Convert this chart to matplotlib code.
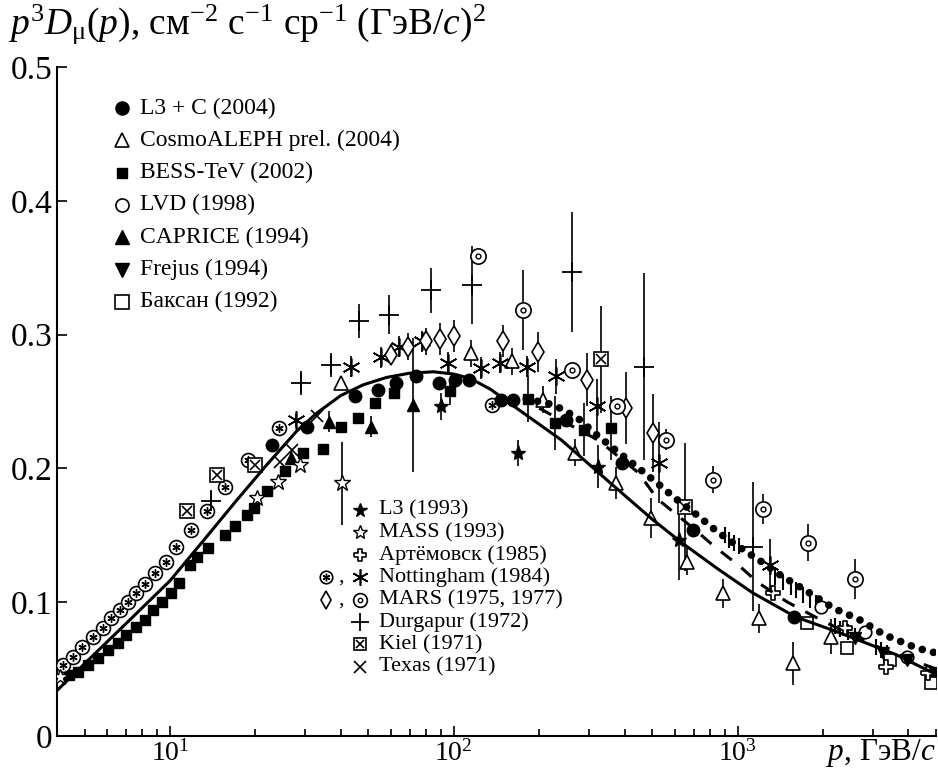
import matplotlib
matplotlib.use("Agg")
import matplotlib.pyplot as plt
from matplotlib.ticker import FixedLocator, NullFormatter

plt.rcParams['font.family'] = ['Liberation Serif', 'DejaVu Serif']
plt.rcParams['mathtext.fontset'] = 'custom'
plt.rcParams['mathtext.rm'] = 'Liberation Serif'
plt.rcParams['mathtext.it'] = 'Liberation Serif:italic'
plt.rcParams['mathtext.bf'] = 'Liberation Serif:bold'

# model curves
solid_p = [4, 5, 7, 10, 13, 17, 22, 28, 33, 40, 48, 58, 70, 85, 100, 115, 135, 164, 240, 350, 500, 640, 850, 1130,
           1600, 2200, 3600, 5000]
solid_v = [0.034, 0.054, 0.084, 0.116, 0.145, 0.175, 0.203, 0.228, 0.2415, 0.2545, 0.2625, 0.268, 0.2712, 0.2722,
           0.2705, 0.267, 0.259, 0.246, 0.221, 0.1905, 0.162, 0.144, 0.125, 0.107, 0.089, 0.0785, 0.061, 0.046]
dash_p = [200, 323, 446, 523, 700, 835, 1016, 1174, 1500, 1995, 3000, 5000]
dash_v = [0.245, 0.221, 0.197, 0.177, 0.155, 0.141, 0.127, 0.115, 0.10, 0.086, 0.068, 0.050]
dot_p = [180, 225, 272, 319, 370, 443, 521, 600, 721, 849, 1000, 1200, 1420, 1700, 2200, 2660, 3300, 4270, 5000]
dot_v = [0.252, 0.2475, 0.238, 0.225, 0.214, 0.201, 0.189, 0.178, 0.165, 0.1526, 0.142, 0.131, 0.12, 0.11,
         0.095, 0.0875, 0.0755, 0.0658, 0.062]

# data sets
l3c_p = [22.9, 30.5, 45, 53.9, 62.5, 73.7, 89, 100.6, 113, 147, 162, 248, 390, 698, 1580]
l3c_v = [0.2177, 0.2313, 0.2538, 0.2588, 0.2638, 0.2687, 0.2638, 0.2663, 0.2663, 0.2513, 0.2513, 0.2363, 0.2044, 0.154, 0.0892]
l3c_bar_p = [900, 930, 970, 1010, 1350, 1440, 1540, 1600, 1700, 1800, 1890, 2200, 2300, 2440, 2590, 3080, 3200, 3350]
l3c_bar_v = [0.150, 0.1466, 0.144, 0.142, 0.119, 0.1154, 0.1117, 0.109, 0.1055, 0.1017, 0.0995, 0.0825, 0.080, 0.0778,
             0.0748, 0.0668, 0.0643, 0.062]

aleph_p = [40, 115, 160, 207, 267, 372, 494, 664, 885, 1190, 1573, 2130]
aleph_v = [0.264, 0.286, 0.28, 0.2513, 0.2117, 0.189, 0.1628, 0.1304, 0.1067, 0.088, 0.0544, 0.0743]
aleph_e = [0.005, 0.01, 0.01, 0.01, 0.01, 0.012, 0.015, 0.01, 0.011, 0.011, 0.016, 0.013]

bess_p = [4.4, 4.75, 5.15, 5.6, 6.05, 6.55, 7.0, 7.6, 8.16, 8.72, 9.35, 10.1, 10.8, 11.8, 12.5, 13.6, 15.6, 16.9,
          18.7, 19.7, 21.9, 25.5, 29.5, 34.5, 40, 45.8, 52.8, 61.6, 96.6, 183, 227, 287, 359, 4800]
bess_v = [0.0456, 0.048, 0.053, 0.058, 0.0643, 0.0693, 0.0755, 0.0817, 0.0868, 0.0942, 0.1004, 0.1067, 0.1142,
          0.128, 0.134, 0.1404, 0.150, 0.1566, 0.165, 0.1703, 0.1832, 0.1977, 0.2114, 0.2147, 0.2313, 0.2376,
          0.2488, 0.2563, 0.2575, 0.2518, 0.2339, 0.2289, 0.2301, 0.048]
bess_e = [0] * 28 + [0.01, 0.017, 0.02, 0.02, 0.024, 0]

lvd_p = [1960, 2800, 3950]
lvd_v = [0.0963, 0.078, 0.0593]

caprice_p = [26.6, 36.3, 51, 71.7]
caprice_v = [0.208, 0.235, 0.2313, 0.2476]
caprice_e = [0.005, 0.008, 0.008, 0.05]

frejus_p = [2600, 3260, 3950]
frejus_v = [0.0731, 0.0619, 0.057]

baksan_p = [1750, 2420, 3440, 4800]
baksan_v = [0.0843, 0.0656, 0.0568, 0.0394]

l3_p = [90.3, 169, 322, 624]
l3_v = [0.2463, 0.2115, 0.2014, 0.1466]
l3_e = [0.01, 0.01, 0.016, 0.03]

mass_p = [4.1, 20.3, 24, 28.8, 40.5]
mass_v = [0.044, 0.178, 0.19, 0.2027, 0.189]
mass_e = [0, 0, 0, 0, 0.031]

artem_p = [1330, 2385, 3337, 4687]
artem_v = [0.1067, 0.0805, 0.0518, 0.0469]

nottc_p = [4.2, 4.55, 4.9, 5.35, 5.8, 6.2, 6.65, 7.1, 7.6, 8.2, 8.85, 9.65, 10.5, 11.9, 13.5, 15.6, 18.9, 24.2, 136]
nottc_v = [0.053, 0.0593, 0.0668, 0.0743, 0.0806, 0.088, 0.0942, 0.1004, 0.1067, 0.1135, 0.1217, 0.130, 0.1416,
           0.154, 0.168, 0.186, 0.2064, 0.230, 0.2476]
nott_p = [27.7, 43.4, 55.4, 64, 77, 95.3, 125, 145, 181, 229, 320, 527, 1300]
nott_v = [0.236, 0.276, 0.283, 0.291, 0.295, 0.2787, 0.275, 0.279, 0.276, 0.2687, 0.2468, 0.2044, 0.1279]
nott_e = [0.005, 0.008, 0.008, 0.008, 0.008, 0.008, 0.008, 0.008, 0.008, 0.013, 0.02, 0.03, 0.019]

marsd_p = [60, 68.7, 79.8, 89.5, 99.8, 149.5, 198, 294, 403, 503]
marsd_v = [0.285, 0.291, 0.295, 0.297, 0.2987, 0.295, 0.2867, 0.2663, 0.245, 0.2264]
marsd_e = [0.008, 0.01, 0.01, 0.012, 0.012, 0.012, 0.015, 0.02, 0.027, 0.029]
marsc_p = [122, 175, 261, 376, 560, 818, 1226, 1770, 2600]
marsc_v = [0.3585, 0.3186, 0.2737, 0.2463, 0.2214, 0.1915, 0.1696, 0.1446, 0.1172]
marsc_e = [0.005, 0.03, 0.005, 0.005, 0.008, 0.01, 0.011, 0.014, 0.015]

durg_p = [13.9, 29, 36.8, 46.5, 59.3, 83.3, 116, 260, 469, 1130]
durg_v = [0.176, 0.264, 0.2775, 0.31, 0.315, 0.333, 0.337, 0.347, 0.276, 0.1416]
durg_e = [0.008, 0.009, 0.009, 0.0125, 0.0146, 0.0168, 0.029, 0.045, 0.07, 0.048]

kiel_p = [11.45, 14.6, 20, 330, 651]
kiel_v = [0.1678, 0.195, 0.2027, 0.2817, 0.171]
kiel_e = [0, 0, 0, 0.04, 0.048]

texas_p = [24.5, 26.9, 33]
texas_v = [0.205, 0.214, 0.239]

cross = [(-1, -0.33), (-0.33, -0.33), (-0.33, -1), (0.33, -1), (0.33, -0.33), (1, -0.33), (1, 0.33),
         (0.33, 0.33), (0.33, 1), (-0.33, 1), (-0.33, 0.33), (-1, 0.33), (-1, -0.33)]

STY = {
    'l3c': [dict(marker='o', ms=9, mfc='k', mec='k')],
    'aleph': [dict(marker='^', ms=10, mfc='w', mec='k', mew=1.2)],
    'bess': [dict(marker='s', ms=7.5, mfc='k', mec='k')],
    'lvd': [dict(marker='o', ms=9, mfc='w', mec='k', mew=1.2)],
    'caprice': [dict(marker='^', ms=9, mfc='k', mec='k')],
    'frejus': [dict(marker='v', ms=9, mfc='k', mec='k')],
    'baksan': [dict(marker='s', ms=9, mfc='w', mec='k', mew=1.2)],
    'l3': [dict(marker='*', ms=11, mfc='k', mec='k')],
    'mass': [dict(marker='*', ms=12, mfc='w', mec='k', mew=1)],
    'artem': [dict(marker=cross, ms=10, mfc='w', mec='k', mew=1.2)],
    'nottc': [dict(marker='o', ms=10, mfc='w', mec='k', mew=1.2), dict(marker=(6, 2, 0), ms=6, mec='k', mew=1)],
    'nott': [dict(marker=(6, 2, 0), ms=13, mec='k', mew=1.2)],
    'marsd': [dict(marker='d', ms=10, mfc='w', mec='k', mew=1.2)],
    'marsc': [dict(marker='o', ms=11, mfc='w', mec='k', mew=1.2), dict(marker='o', ms=3.5, mfc='w', mec='k', mew=1)],
    'durg': [dict(marker='+', ms=14, mec='k', mew=1.3)],
    'kiel': [dict(marker='s', ms=10, mfc='w', mec='k', mew=1.2), dict(marker='x', ms=7, mec='k', mew=1.2)],
    'texas': [dict(marker='x', ms=9, mec='k', mew=1.2)],
}

fig = plt.figure(figsize=(9.38, 7.7), dpi=100)
ax = fig.add_axes([57 / 938, 34 / 770, 879 / 938, 669 / 770])


def pts(p, v, style, err=None):
    if err is not None:
        ax.errorbar(p, v, yerr=err, fmt='none', ecolor='k', elinewidth=1.2, zorder=2)
    for layer in STY[style]:
        ax.plot(p, v, ls='none', zorder=3, **layer)


ax.plot(solid_p, solid_v, color='k', lw=2.2, zorder=4)
ax.plot(dash_p, dash_v, color='k', lw=2.2, dashes=(4.5, 4), zorder=4)
ax.plot(dot_p, dot_v, color='k', lw=5.5, dashes=(0.01, 1.5), dash_capstyle='round', zorder=4)

ax.errorbar(l3c_bar_p, l3c_bar_v, yerr=0.006, fmt='none', ecolor='k', elinewidth=1.5, zorder=2)
pts(bess_p, bess_v, 'bess', bess_e)
pts(nottc_p, nottc_v, 'nottc')
pts(l3c_p, l3c_v, 'l3c')
pts(aleph_p, aleph_v, 'aleph', aleph_e)
pts(lvd_p, lvd_v, 'lvd')
pts(caprice_p, caprice_v, 'caprice', caprice_e)
pts(frejus_p, frejus_v, 'frejus')
pts(baksan_p, baksan_v, 'baksan')
pts(l3_p, l3_v, 'l3', l3_e)
pts(mass_p, mass_v, 'mass', mass_e)
pts(artem_p, artem_v, 'artem')
pts(nott_p, nott_v, 'nott', nott_e)
pts(marsd_p, marsd_v, 'marsd', marsd_e)
pts(marsc_p, marsc_v, 'marsc', marsc_e)
pts(durg_p, durg_v, 'durg', durg_e)
pts(kiel_p, kiel_v, 'kiel', kiel_e)
pts(texas_p, texas_v, 'texas')

ax.set_xscale('log')
ax.set_xlim(4, 5000)
ax.set_ylim(0, 0.5)
for s in ['top', 'right']:
    ax.spines[s].set_visible(False)
for s in ['left', 'bottom']:
    ax.spines[s].set_linewidth(1.5)
ax.yaxis.set_major_locator(FixedLocator([0, 0.1, 0.2, 0.3, 0.4, 0.5]))
ax.set_yticklabels(['0', '0.1', '0.2', '0.3', '0.4', '0.5'])
ax.xaxis.set_minor_formatter(NullFormatter())
ax.tick_params(which='both', direction='in', width=1.2)
ax.tick_params(axis='x', which='major', length=7, pad=3, labelsize=20)
ax.tick_params(axis='x', which='minor', length=5)
ax.tick_params(axis='y', which='major', length=7, pad=3, labelsize=24)

fig.text(8 / 938, 1 - 34 / 770, r'$p^3D_{\mathrm{\mu}}(p)$, см$^{-2}$ с$^{-1}$ ср$^{-1}$ (ГэВ/$c$)$^2$',
         fontsize=27, va='baseline', ha='left')
fig.text(936 / 938, 1 - 760 / 770, r'$p$, ГэВ/$c$', fontsize=22.5, va='baseline', ha='right')

# legends drawn by hand
leg1 = [('l3c', 'L3 + C (2004)'), ('aleph', 'CosmoALEPH prel. (2004)'), ('bess', 'BESS-TeV (2002)'),
        ('lvd', 'LVD (1998)'), ('caprice', 'CAPRICE (1994)'), ('frejus', 'Frejus (1994)'), ('baksan', 'Баксан (1992)')]
leg2 = [('l3', 'L3 (1993)'), ('mass', 'MASS (1993)'), ('artem', 'Артёмовск (1985)'), ('nott', 'Nottingham (1984)'),
        ('marsc', 'MARS (1975, 1977)'), ('durg', 'Durgapur (1972)'), ('kiel', 'Kiel (1971)'), ('texas', 'Texas (1971)')]
extra = {'nott': 'nottc', 'marsc': 'marsd'}


def legend(items, mx, tx, y0, dy, fs, scale):
    for i, (key, text) in enumerate(items):
        fy = 1 - (y0 + dy * i) / 770
        for layer in STY[key]:
            kw = dict(layer)
            kw['ms'] = kw['ms'] * scale
            ax.plot([mx / 938], [fy], transform=fig.transFigure, clip_on=False, ls='none', **kw)
        fig.text(tx / 938, fy, text, fontsize=fs, va='center', ha='left')
        if key in extra:
            for layer in STY[extra[key]]:
                kw = dict(layer)
                kw['ms'] = kw['ms'] * scale
                ax.plot([326 / 938], [fy], transform=fig.transFigure, clip_on=False, ls='none', **kw)
            fig.text(338 / 938, fy, ',', fontsize=fs, va='center', ha='left')


legend(leg1, 121.5, 140, 108, 32.3, 17, 1.05)
legend(leg2, 360, 379, 510, 22.4, 16, 0.9)

fig.savefig('out.png', dpi=100)
